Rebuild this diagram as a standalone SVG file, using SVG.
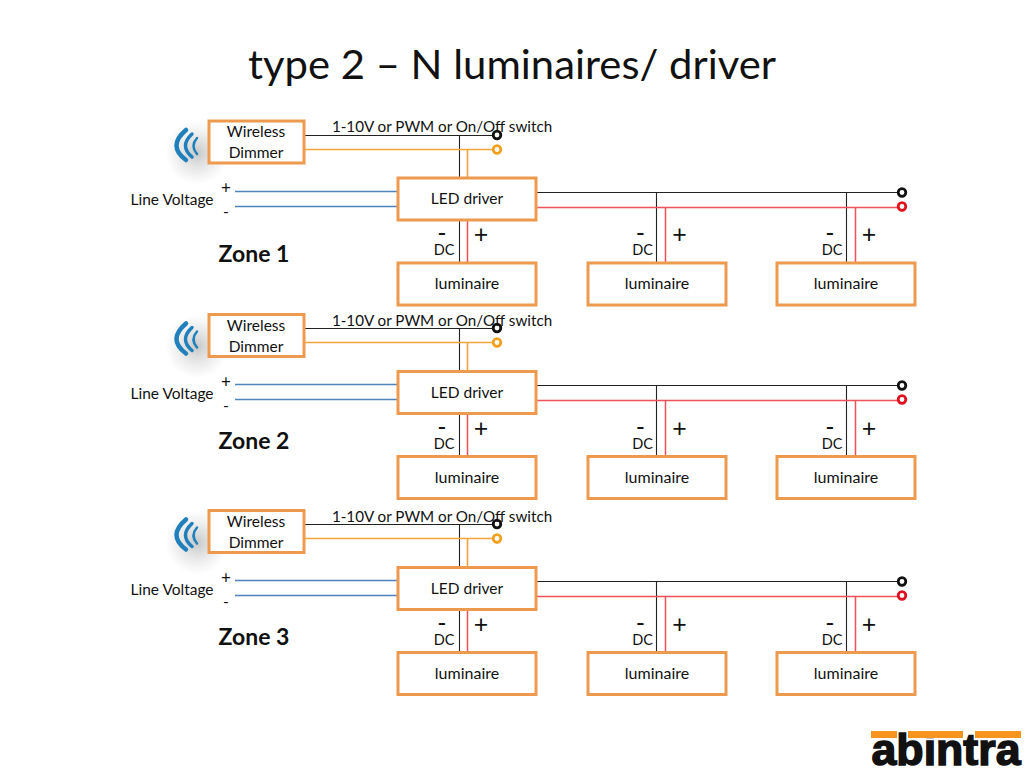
<svg xmlns="http://www.w3.org/2000/svg" width="1024" height="768" viewBox="0 0 1024 768">
<style>
text{font-family:Lato,"Open Sans","Liberation Sans",sans-serif;fill:#111;text-anchor:middle}
.box{fill:#fff;stroke:#ED9A4E;stroke-width:3}
.t{font-size:15.5px}
.s{font-size:15.2px}
.u{font-size:16px}
.d{font-size:14.5px}
.m{font-size:17px}
.p{font-size:25px}
.z{font-size:23px;font-weight:700}
.k,.o,.r,.bl{fill:none}
.k{stroke:#222;stroke-width:1.1}
.r{stroke:#F0505A;stroke-width:1.5}
.o{stroke:#F2A53A;stroke-width:1.6}
.bl{stroke:#4F82BC;stroke-width:1.3}
.ring{fill:#fff;stroke-width:2.8}
.arc{fill:none;stroke:#1F80BC;stroke-linecap:round}
</style>
<defs>
<radialGradient id="sh"><stop offset="0" stop-color="#999" stop-opacity=".55"/><stop offset="1" stop-color="#bbb" stop-opacity="0"/></radialGradient>
<g id="wires">
<path class="k" d="M304 135.500H497M459.500 135.500V178"/>
<path class="o" d="M304 149.500H497M467.500 149.500V178"/>
<path class="bl" d="M235 191.500H398M235 206.500H398"/>
<path class="k" d="M536 192.500H902M459.500 220V263M656.500 192.500V263M846.500 192.500V263"/>
<path class="r" d="M536 207.500H902M467.500 220V263M665.500 207.500V263M855.500 207.500V263"/>
<circle class="ring" cx="497" cy="135" r="3.800" stroke="#111"/>
<circle class="ring" cx="497" cy="149.500" r="3.800" stroke="#F2A01E"/>
<circle class="ring" cx="902" cy="192.500" r="3.800" stroke="#111"/>
<circle class="ring" cx="902" cy="206.500" r="3.800" stroke="#E0101E"/>
</g>
<g id="wave">
<ellipse cx="197" cy="153" rx="32" ry="32" fill="url(#sh)"/>
<path class="arc" stroke-width="4.500" d="M186 130Q167 146 186 160"/>
<path class="arc" stroke-width="3.500" d="M192 134Q179 146 192 157"/>
<path class="arc" stroke-width="2.500" d="M197 138Q190 146 197 154"/>
</g>
<g id="dc">
<text class="p" x="442" y="242">-</text><text class="d" x="444" y="255">DC</text><text class="p" x="481" y="243">+</text>
</g>
</defs>
<text x="512" y="79" font-size="40" textLength="528" lengthAdjust="spacingAndGlyphs">type 2 – N luminaires/ driver</text>

<g id="connectors">
<use href="#wires"/>
<use href="#wires" transform="translate(0 193)"/>
<use href="#wires" transform="translate(0 389)"/>
</g>

<g id="zone1">
<g id="wave1"><use href="#wave"/></g>
<g id="dimmer1"><rect class="box" x="209" y="121" width="95" height="42"/><text class="t" x="256" y="137">Wireless</text><text class="t" x="256" y="158">Dimmer</text></g>
<text class="s" x="442" y="132">1-10V or PWM or On/Off switch</text>
<g id="line1"><text class="t" x="172" y="205">Line Voltage</text><text class="m" x="226" y="194">+</text><text class="t" x="226" y="217">-</text></g>
<g id="driver1"><rect class="box" x="398" y="178" width="138" height="42"/><text class="t" x="467" y="204">LED driver</text></g>
<text class="z" x="254" y="261.500">Zone 1</text>
<g id="lum1a"><rect class="box" x="398" y="263" width="138" height="42"/><text class="u" x="467" y="289">luminaire</text></g>
<g id="lum1b"><rect class="box" x="588" y="263" width="138" height="42"/><text class="u" x="657" y="289">luminaire</text></g>
<g id="lum1c"><rect class="box" x="777" y="263" width="138" height="42"/><text class="u" x="846" y="289">luminaire</text></g>
<use href="#dc"/><use href="#dc" x="198.500"/><use href="#dc" x="388"/>
</g>

<g id="zone2" transform="translate(0 193.500)">
<g id="wave2"><use href="#wave"/></g>
<g id="dimmer2"><rect class="box" x="209" y="121" width="95" height="42"/><text class="t" x="256" y="137">Wireless</text><text class="t" x="256" y="158">Dimmer</text></g>
<text class="s" x="442" y="132">1-10V or PWM or On/Off switch</text>
<g id="line2"><text class="t" x="172" y="205">Line Voltage</text><text class="m" x="226" y="194">+</text><text class="t" x="226" y="217">-</text></g>
<g id="driver2"><rect class="box" x="398" y="178" width="138" height="42"/><text class="t" x="467" y="204">LED driver</text></g>
<text class="z" x="254" y="255">Zone 2</text>
<g id="lum2a"><rect class="box" x="398" y="263" width="138" height="42"/><text class="u" x="467" y="289">luminaire</text></g>
<g id="lum2b"><rect class="box" x="588" y="263" width="138" height="42"/><text class="u" x="657" y="289">luminaire</text></g>
<g id="lum2c"><rect class="box" x="777" y="263" width="138" height="42"/><text class="u" x="846" y="289">luminaire</text></g>
<use href="#dc"/><use href="#dc" x="198.500"/><use href="#dc" x="388"/>
</g>

<g id="zone3" transform="translate(0 389.500)">
<g id="wave3"><use href="#wave"/></g>
<g id="dimmer3"><rect class="box" x="209" y="121" width="95" height="42"/><text class="t" x="256" y="137">Wireless</text><text class="t" x="256" y="158">Dimmer</text></g>
<text class="s" x="442" y="132">1-10V or PWM or On/Off switch</text>
<g id="line3"><text class="t" x="172" y="205">Line Voltage</text><text class="m" x="226" y="194">+</text><text class="t" x="226" y="217">-</text></g>
<g id="driver3"><rect class="box" x="398" y="178" width="138" height="42"/><text class="t" x="467" y="204">LED driver</text></g>
<text class="z" x="254" y="255">Zone 3</text>
<g id="lum3a"><rect class="box" x="398" y="263" width="138" height="42"/><text class="u" x="467" y="289">luminaire</text></g>
<g id="lum3b"><rect class="box" x="588" y="263" width="138" height="42"/><text class="u" x="657" y="289">luminaire</text></g>
<g id="lum3c"><rect class="box" x="777" y="263" width="138" height="42"/><text class="u" x="846" y="289">luminaire</text></g>
<use href="#dc"/><use href="#dc" x="198.500"/><use href="#dc" x="388"/>
</g>

<g id="logo">
<text x="946" y="765" font-size="44" font-weight="700" textLength="149" lengthAdjust="spacingAndGlyphs" stroke="#111" stroke-width="1.500" style="font-family:'Liberation Sans',Arial,sans-serif">abintra</text>
<path fill="#F7941D" d="M871 731H897V738H871ZM908 731H963V738H908ZM975 731H1021V738H975Z"/>
</g>
</svg>
